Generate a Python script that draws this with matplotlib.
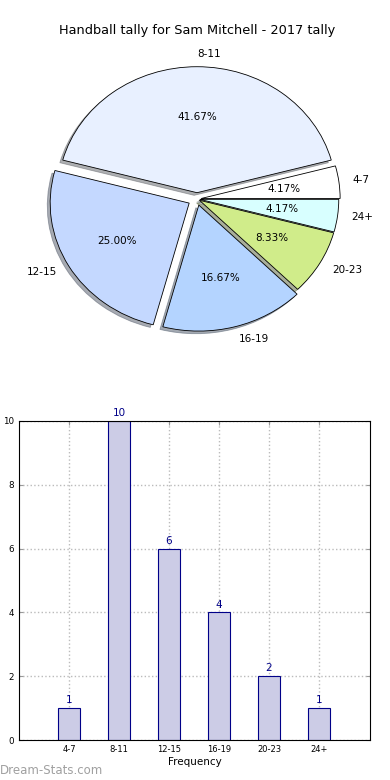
# tally per Sam Mitchell: torta + barre

import matplotlib.pyplot as plt
import numpy as np

categorie = ["4-7", "8-11", "12-15", "16-19", "20-23", "24+"]
valori = [1, 10, 6, 4, 2, 1]
colori = ["#ffffff", "#e8f0ff", "#c4d8ff", "#b4d4ff", "#d0ec8a", "#d8ffff"]
esplosione = [0.03, 0.05, 0.065, 0.05, 0.02, 0.02]

titolo = "Handball tally for Sam Mitchell - 2017 tally"
etichetta_y = "Tally Amount"
etichetta_x = "Frequency"

fig = plt.figure(figsize=(3.9, 7.8), dpi=100)

# torta (ellittica, aspetto libero)
ax = fig.add_axes([19.5 / 390, 1 - 358 / 780, 355 / 390, 318 / 780])
wedges, testi, pct = ax.pie(
    valori,
    labels=categorie,
    colors=colori,
    explode=esplosione,
    autopct="%.2f%%",
    startangle=0,
    shadow={"ox": -0.015, "oy": -0.015, "shade": 0.6},
    wedgeprops={"edgecolor": "black", "linewidth": 0.6},
    textprops={"fontsize": 7.5},
)
ax.set_aspect("auto")
ax.set_xlim(-1.277, 1.277)
ax.set_ylim(-1.262, 1.262)
ax.set_title(titolo, fontsize=9.3, pad=4)

# barre
ax1 = fig.add_axes([19 / 390, 1 - 740 / 780, 351 / 390, 319 / 780])
x = np.arange(len(categorie))
ax1.bar(x, valori, width=0.45, color="#cccce6", edgecolor="#000088", linewidth=0.8, zorder=2)
for xi, v in zip(x, valori):
    ax1.annotate(str(v), (xi, v), xytext=(0, 2), textcoords="offset points",
                 ha="center", va="bottom", fontsize=7.5, color="#000088")
ax1.set_xlim(-1, 6.02)
ax1.set_ylim(0, 10)
ax1.set_xticks(x)
ax1.set_xticklabels(categorie, fontsize=6)
ax1.set_yticks(range(0, 11, 2))
ax1.tick_params(axis="y", labelsize=6.3, direction="in", right=True, length=3, color="#999999")
ax1.tick_params(axis="x", direction="in", top=True, length=3, color="#999999")
ax1.grid(True, linestyle=":", color="#bbbbbb", linewidth=1, zorder=0)
ax1.set_axisbelow(True)
ax1.set_xlabel(etichetta_x, fontsize=7.5, labelpad=2)
ax1.set_ylabel(etichetta_y, fontsize=7.5)
ax1.yaxis.set_label_coords(-0.06, 0.5)

fig.text(0.0, 1 - 771 / 780, "Dream-Stats.com", fontsize=8.5, color="#a0a0a0", ha="left", va="center")

fig.savefig("out.png", dpi=100)
